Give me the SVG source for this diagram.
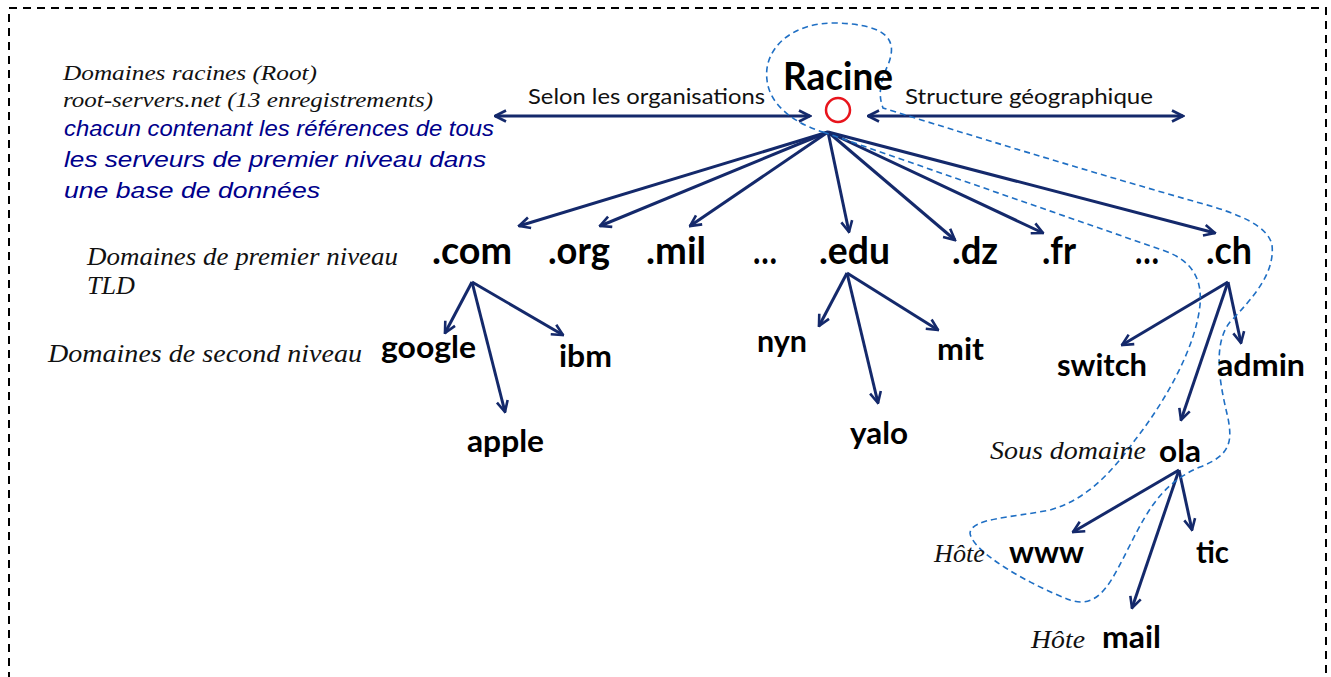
<svg xmlns="http://www.w3.org/2000/svg" width="1331" height="677" viewBox="0 0 1331 677">
<style>
.b{font-family:Lato,"Open Sans",sans-serif;font-weight:700;fill:#000}
.t{font-size:38px}
.s{font-size:30px}
.i{font-family:"Liberation Serif",serif;font-style:italic;fill:#111;font-size:22px}
.il{font-size:25px}
.bl{font-family:"Liberation Sans",Arial,sans-serif;font-style:italic;fill:#00008b;font-size:22px}
.r{font-family:Lato,"Open Sans",sans-serif;font-size:21px;fill:#111}
.a{stroke:#14296b;stroke-width:3;fill:none;marker-end:url(#ah)}
</style>
<defs>
<marker id="ah" viewBox="0 0 14 14" refX="12.5" refY="7" markerWidth="14" markerHeight="14" markerUnits="userSpaceOnUse" orient="auto-start-reverse">
<path d="M1.5,1.5 L12.5,7 L1.5,12.5" fill="none" stroke="#14296b" stroke-width="2.6" stroke-linejoin="miter"/>
</marker>
</defs>
<rect x="9" y="8" width="1317" height="720" fill="none" stroke="#000" stroke-width="2" stroke-dasharray="8,6"/>

<g id="texts-left">
<text class="i" x="63" y="80" textLength="254" lengthAdjust="spacingAndGlyphs">Domaines racines (Root)</text>
<text class="i" x="63" y="107" textLength="370" lengthAdjust="spacingAndGlyphs">root-servers.net (13 enregistrements)</text>
<text class="bl" x="64" y="136" textLength="430" lengthAdjust="spacingAndGlyphs">chacun contenant les références de tous</text>
<text class="bl" x="64" y="167" textLength="422" lengthAdjust="spacingAndGlyphs">les serveurs de premier niveau dans</text>
<text class="bl" x="64" y="198" textLength="256" lengthAdjust="spacingAndGlyphs">une base de données</text>
<text class="i il" x="87" y="265" textLength="311" lengthAdjust="spacingAndGlyphs">Domaines de premier niveau</text>
<text class="i il" x="87" y="294" textLength="48" lengthAdjust="spacingAndGlyphs">TLD</text>
<text class="i il" x="48" y="362" textLength="314" lengthAdjust="spacingAndGlyphs">Domaines de second niveau</text>
</g>

<g id="connectors">
<path class="a" d="M828,132 L519,226"/>
<path class="a" d="M828,132 L600,226"/>
<path class="a" d="M828,132 L690,226"/>
<path class="a" d="M828,132 L849,232"/>
<path class="a" d="M828,132 L955,240"/>
<path class="a" d="M828,132 L1043,233"/>
<path class="a" d="M828,132 L1215,233"/>
<path class="a" d="M495,116 L810,116" style="marker-start:url(#ah)"/>
<path class="a" d="M868,116 L1183,116" style="marker-start:url(#ah)"/>
<path class="a" d="M472,282 L445,333"/>
<path class="a" d="M472,282 L505,412"/>
<path class="a" d="M472,282 L563,335"/>
<path class="a" d="M847,273 L819,326"/>
<path class="a" d="M847,273 L878,403"/>
<path class="a" d="M847,273 L938,330"/>
<path class="a" d="M1228,282 L1122,345"/>
<path class="a" d="M1228,282 L1181,420"/>
<path class="a" d="M1228,282 L1241,343"/>
<path class="a" d="M1179,470 L1073,532"/>
<path class="a" d="M1179,470 L1192,530"/>
<path class="a" d="M1179,470 L1132,608"/>
</g>

<g id="zone">
<path d="M823,132 L1165,251 C1195,262 1202,282 1200,305 C1196,345 1168,398 1135,440 C1110,475 1085,500 1050,510 C1010,518 972,518 970,533 C972,552 1030,585 1070,600 C1100,610 1112,580 1130,545 C1150,505 1165,482 1200,467 C1232,455 1232,440 1228,418 C1220,385 1212,345 1230,322 C1255,296 1275,272 1272,245 C1268,226 1240,214 1200,203 C1090,172 960,132 883,108 C878,95 880,82 888,65 C898,40 888,25 837,23 C790,22 763,50 767,80 C769,102 790,122 823,132 Z" fill="none" stroke="#1f6fc4" stroke-width="1.6" stroke-dasharray="6,4"/>
</g>

<g id="racine">
<text class="b" x="783" y="90" font-size="39" textLength="110" lengthAdjust="spacingAndGlyphs">Racine</text>
<circle cx="838" cy="110" r="12" fill="none" stroke="#e8141c" stroke-width="2.5"/>
</g>
<g id="labels-axes">
<text class="r" x="528" y="104" textLength="237" lengthAdjust="spacingAndGlyphs">Selon les organisations</text>
<text class="r" x="905" y="104" textLength="248" lengthAdjust="spacingAndGlyphs">Structure géographique</text>
</g>

<g id="com"><text class="b t" x="432" y="264" textLength="80" lengthAdjust="spacingAndGlyphs">.com</text></g>
<g id="org"><text class="b t" x="548" y="264" textLength="62" lengthAdjust="spacingAndGlyphs">.org</text></g>
<g id="mil"><text class="b t" x="646" y="264" textLength="60" lengthAdjust="spacingAndGlyphs">.mil</text></g>
<g id="dots1"><text class="b t" x="753" y="264" textLength="24" lengthAdjust="spacingAndGlyphs">…</text></g>
<g id="edu"><text class="b t" x="819" y="264" textLength="71" lengthAdjust="spacingAndGlyphs">.edu</text></g>
<g id="dz"><text class="b t" x="952" y="264" textLength="46" lengthAdjust="spacingAndGlyphs">.dz</text></g>
<g id="fr"><text class="b t" x="1042" y="264" textLength="34" lengthAdjust="spacingAndGlyphs">.fr</text></g>
<g id="dots2"><text class="b t" x="1135" y="264" textLength="24" lengthAdjust="spacingAndGlyphs">…</text></g>
<g id="ch"><text class="b t" x="1206" y="264" textLength="46" lengthAdjust="spacingAndGlyphs">.ch</text></g>

<g id="google"><text class="b s" x="381" y="358" textLength="95" lengthAdjust="spacingAndGlyphs">google</text></g>
<g id="ibm"><text class="b s" x="559" y="367" textLength="53" lengthAdjust="spacingAndGlyphs">ibm</text></g>
<g id="apple"><text class="b s" x="467" y="452" textLength="77" lengthAdjust="spacingAndGlyphs">apple</text></g>
<g id="nyn"><text class="b s" x="757" y="352" textLength="50" lengthAdjust="spacingAndGlyphs">nyn</text></g>
<g id="yalo"><text class="b s" x="850" y="444" textLength="58" lengthAdjust="spacingAndGlyphs">yalo</text></g>
<g id="mit"><text class="b s" x="937" y="360" textLength="47" lengthAdjust="spacingAndGlyphs">mit</text></g>
<g id="switch"><text class="b s" x="1057" y="376" textLength="90" lengthAdjust="spacingAndGlyphs">switch</text></g>
<g id="admin"><text class="b s" x="1217" y="376" textLength="88" lengthAdjust="spacingAndGlyphs">admin</text></g>
<g id="ola">
<text class="i il" x="990" y="459" textLength="156" lengthAdjust="spacingAndGlyphs">Sous domaine</text>
<text class="b s" x="1159" y="462" textLength="42" lengthAdjust="spacingAndGlyphs">ola</text>
</g>
<g id="www">
<text class="i il" x="934" y="562" textLength="51" lengthAdjust="spacingAndGlyphs">Hôte</text>
<text class="b s" x="1009" y="563" textLength="75" lengthAdjust="spacingAndGlyphs">www</text>
</g>
<g id="tic"><text class="b s" x="1196" y="563" textLength="33" lengthAdjust="spacingAndGlyphs">tic</text></g>
<g id="mail">
<text class="i il" x="1031" y="648" textLength="54" lengthAdjust="spacingAndGlyphs">Hôte</text>
<text class="b s" x="1102" y="648" textLength="59" lengthAdjust="spacingAndGlyphs">mail</text>
</g>
</svg>
